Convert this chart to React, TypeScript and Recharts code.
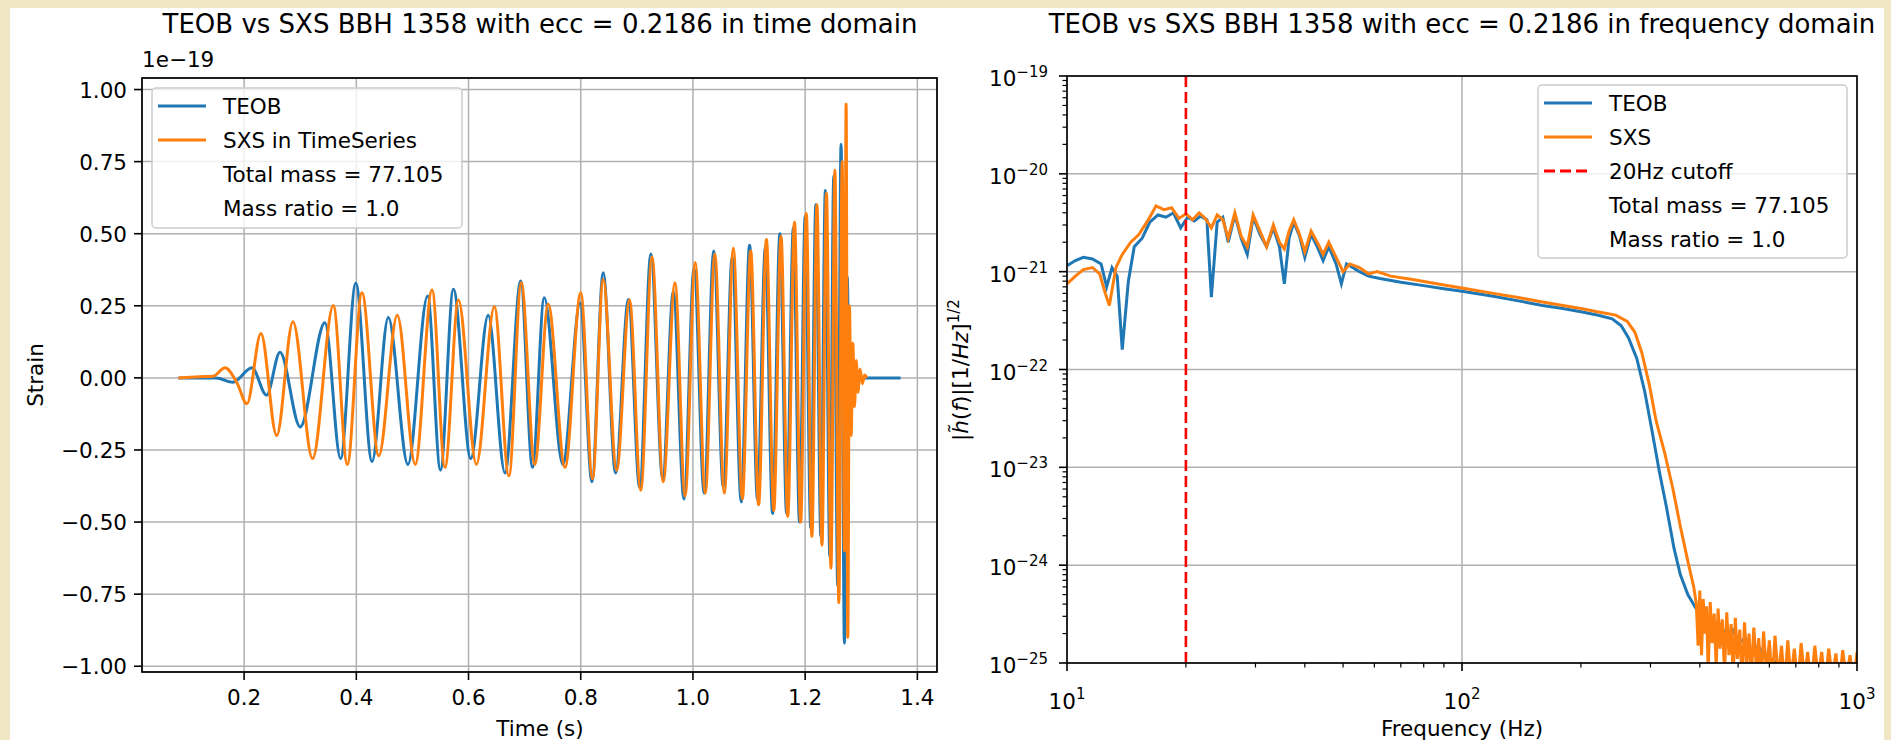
import React from 'react';
import { LineChart, Line, XAxis, YAxis, CartesianGrid, ReferenceLine } from 'recharts';

const FONT = '"DejaVu Sans", "Liberation Sans", sans-serif';
const INK = '#000000';
const BLUE = '#1f77b4';
const ORANGE = '#ff7f0e';
const GRID = '#b0b0b0';

// time domain, strain in units of 1e-19 (turning points of each waveform)
const teobWave: [number, number][] = [
  [0.083, 0], [0.15, 0], [0.18, -0.015], [0.214, 0.035], [0.24, -0.06], [0.264, 0.089],
  [0.3, -0.17], [0.344, 0.191], [0.372, -0.28], [0.399, 0.328], [0.428, -0.29], [0.457, 0.209],
  [0.492, -0.3], [0.527, 0.284], [0.55, -0.32], [0.573, 0.307], [0.604, -0.28], [0.635, 0.217],
  [0.665, -0.33], [0.693, 0.336], [0.714, -0.31], [0.735, 0.278], [0.768, -0.3], [0.799, 0.26],
  [0.82, -0.36], [0.84, 0.365], [0.862, -0.33], [0.885, 0.272], [0.905, -0.38], [0.925, 0.43],
  [0.946, -0.35], [0.965, 0.3], [0.984, -0.42], [1.002, 0.38], [1.02, -0.4], [1.037, 0.44],
  [1.054, -0.38], [1.07, 0.42], [1.086, -0.43], [1.101, 0.46], [1.115, -0.42], [1.129, 0.45],
  [1.142, -0.47], [1.155, 0.5], [1.167, -0.47], [1.179, 0.52], [1.19, -0.5], [1.2, 0.56],
  [1.21, -0.52], [1.219, 0.6], [1.228, -0.55], [1.236, 0.65], [1.244, -0.62], [1.251, 0.7],
  [1.258, -0.72], [1.264, 0.81], [1.27, -0.92], [1.275, 0.35], [1.279, -0.15], [1.283, 0.06],
  [1.287, -0.02], [1.292, 0], [1.37, 0],
];

const sxsWave: [number, number][] = [
  [0.083, 0], [0.12, 0.004], [0.145, 0.006], [0.166, 0.035], [0.188, -0.02], [0.205, -0.09],
  [0.23, 0.154], [0.258, -0.2], [0.287, 0.195], [0.322, -0.28], [0.359, 0.251], [0.384, -0.3],
  [0.41, 0.295], [0.44, -0.27], [0.473, 0.217], [0.505, -0.3], [0.535, 0.305], [0.558, -0.31],
  [0.582, 0.27], [0.614, -0.3], [0.646, 0.247], [0.672, -0.34], [0.694, 0.33], [0.718, -0.3],
  [0.742, 0.255], [0.772, -0.31], [0.8, 0.295], [0.821, -0.35], [0.84, 0.341], [0.864, -0.32],
  [0.887, 0.27], [0.907, -0.39], [0.927, 0.42], [0.947, -0.36], [0.968, 0.33], [0.986, -0.41],
  [1.004, 0.4], [1.022, -0.4], [1.039, 0.43], [1.056, -0.4], [1.072, 0.45], [1.088, -0.42],
  [1.103, 0.44], [1.117, -0.44], [1.131, 0.48], [1.144, -0.46], [1.157, 0.49], [1.169, -0.48],
  [1.181, 0.54], [1.192, -0.5], [1.202, 0.57], [1.212, -0.55], [1.221, 0.6], [1.23, -0.58],
  [1.238, 0.64], [1.246, -0.66], [1.253, 0.72], [1.26, -0.78], [1.266, 0.75], [1.27, -0.6],
  [1.273, 0.95], [1.276, -0.9], [1.279, 0.25], [1.282, -0.2], [1.285, 0.12], [1.288, -0.1],
  [1.291, 0.06], [1.294, -0.05], [1.298, 0.03], [1.302, -0.02], [1.306, 0.01], [1.31, 0],
];

const timeTicks = [0.2, 0.4, 0.6, 0.8, 1.0, 1.2, 1.4];
const strainTicks = [-1, -0.75, -0.5, -0.25, 0, 0.25, 0.5, 0.75, 1];

// frequency domain, |h(f)| in 1/sqrt(Hz)
const teobSpectrum: [number, number][] = [
  [10, 1.15e-21], [10.5, 1.3e-21], [11, 1.4e-21], [11.6, 1.35e-21], [12.2, 1.2e-21], [12.6, 7e-22],
  [13, 1.1e-21], [13.4, 9e-22], [13.8, 1.6e-22], [14.3, 8e-22], [14.8, 1.8e-21], [15.5, 2.2e-21],
  [16.2, 3.2e-21], [17, 3.8e-21], [17.8, 3.6e-21], [18.6, 4e-21], [19.4, 2.8e-21], [20.2, 3.6e-21],
  [21, 3.3e-21], [21.8, 3.7e-21], [22.6, 3.4e-21], [23.2, 5.5e-22], [24, 3.2e-21], [24.8, 3.6e-21],
  [25.6, 2e-21], [26.6, 3.8e-21], [27.6, 2.2e-21], [28.6, 1.5e-21], [29.6, 3.6e-21], [30.8, 2.4e-21],
  [32, 1.8e-21], [33.3, 2.8e-21], [34.5, 1.8e-21], [35.5, 7.5e-22], [36.5, 2.2e-21], [37.5, 3.2e-21],
  [38.8, 2.3e-21], [40, 1.4e-21], [41.5, 2.4e-21], [43, 1.8e-21], [44.5, 1.3e-21], [46, 1.8e-21],
  [48, 1.2e-21], [49.5, 7.5e-22], [51, 1.2e-21], [53, 1.1e-21], [55, 1e-21], [58, 9e-22],
  [62, 8.5e-22], [70, 7.8e-22], [80, 7.2e-22], [90, 6.7e-22], [100, 6.3e-22], [120, 5.6e-22],
  [140, 5e-22], [160, 4.5e-22], [180, 4.2e-22], [200, 3.9e-22], [220, 3.6e-22], [240, 3.3e-22],
  [253, 2.8e-22], [264, 2.1e-22], [277, 1.3e-22], [290, 6e-23], [302, 2.5e-23], [316, 9e-24],
  [329, 4e-24], [344, 1.5e-24], [357, 8e-25], [373, 5e-25], [393, 3.5e-25], [410, 3e-25],
  [428, 2.5e-25], [446, 2.6e-25], [464, 2e-25], [484, 2.2e-25], [502, 1.6e-25], [522, 1.8e-25],
  [542, 1.3e-25], [562, 1.5e-25], [582, 1.2e-25], [605, 1.1e-25], [630, 1e-25], [670, 9e-26],
];

const sxsSpectrum: [number, number][] = [
  [10, 7.5e-22], [10.5, 9e-22], [11, 1.05e-21], [11.6, 1.1e-21], [12.1, 9.5e-22], [12.5, 6e-22],
  [12.8, 4.5e-22], [13.3, 1.1e-21], [13.8, 1.5e-21], [14.5, 2e-21], [15.2, 2.4e-21], [16, 3.3e-21],
  [16.8, 4.7e-21], [17.6, 4.3e-21], [18.4, 4.5e-21], [19.2, 3.5e-21], [20, 3.9e-21], [20.8, 3.4e-21],
  [21.6, 4e-21], [22.4, 3.5e-21], [23.2, 2.8e-21], [24, 3.8e-21], [24.8, 3.4e-21], [25.6, 2.2e-21],
  [26.6, 4e-21], [27.6, 2.3e-21], [28.6, 1.8e-21], [29.6, 3.8e-21], [30.8, 2.6e-21], [32, 1.8e-21],
  [33.3, 3e-21], [34.5, 2e-21], [35.5, 1.7e-21], [36.5, 2.6e-21], [37.5, 3.4e-21], [38.8, 2.4e-21],
  [40, 1.6e-21], [41.5, 2.6e-21], [43, 2e-21], [44.5, 1.5e-21], [46, 2e-21], [48, 1.4e-21],
  [50, 1e-21], [52, 1.2e-21], [55, 1.1e-21], [58, 9.5e-22], [61, 1e-21], [66, 9e-22],
  [75, 8.3e-22], [90, 7.3e-22], [100, 6.8e-22], [120, 6e-22], [140, 5.4e-22], [160, 4.9e-22],
  [180, 4.5e-22], [200, 4.2e-22], [220, 3.9e-22], [245, 3.6e-22], [262, 3.1e-22], [274, 2.4e-22],
  [285, 1.5e-22], [298, 7e-23], [310, 3e-23], [326, 1.4e-23], [342, 6e-24], [357, 2.5e-24],
  [373, 1.1e-24], [386, 6e-25], [392, 4e-25], [396, 1.5e-25], [400, 5.5e-25], [404, 1.2e-25],
  [408, 4.5e-25], [412, 2e-25], [416, 3.8e-25], [420, 8e-26], [425, 4.2e-25], [430, 1.6e-25],
  [435, 3.2e-25], [440, 9e-26], [445, 3.6e-25], [450, 1.4e-25], [456, 2.8e-25], [462, 8e-26],
  [468, 3.3e-25], [474, 1.2e-25], [480, 2.5e-25], [486, 7e-26], [492, 2.9e-25], [498, 1.1e-25],
  [505, 2.2e-25], [512, 6e-26], [519, 2.6e-25], [526, 1e-25], [533, 2e-25], [540, 7e-26],
  [548, 2.3e-25], [556, 9e-26], [564, 1.8e-25], [572, 6e-26], [580, 2.1e-25], [590, 8e-26],
  [600, 1.7e-25], [610, 6e-26], [620, 1.9e-25], [632, 7e-26], [644, 1.5e-25], [656, 6e-26],
  [668, 1.7e-25], [680, 7e-26], [694, 1.4e-25], [708, 6e-26], [722, 1.6e-25], [736, 7e-26],
  [750, 1.3e-25], [766, 6e-26], [782, 1.5e-25], [798, 7e-26], [814, 1.3e-25], [830, 6e-26],
  [848, 1.4e-25], [866, 7e-26], [884, 1.25e-25], [902, 6e-26], [920, 1.35e-25], [940, 7e-26],
  [960, 1.2e-25], [980, 6e-26], [1000, 1.3e-25],
];

const freqMajor = [10, 100, 1000];
const freqMinor = [20, 30, 40, 50, 60, 70, 80, 90, 200, 300, 400, 500, 600, 700, 800, 900];
const ampExponents = [-25, -24, -23, -22, -21, -20, -19];
const cutoffHz = 20;

const teobTimeData = teobWave.map(([t, v]) => ({ t, v }));
const sxsTimeData = sxsWave.map(([t, v]) => ({ t, v }));
const teobFreqData = teobSpectrum.map(([f, a]) => ({ f, a }));
const sxsFreqData = sxsSpectrum.map(([f, a]) => ({ f, a }));

const ampMajor = ampExponents.map((e) => Number(`1e${e}`));
const ampMinor = ampExponents
  .slice(0, -1)
  .flatMap((e) => [2, 3, 4, 5, 6, 7, 8, 9].map((m) => Number(`${m}e${e}`)));
const ampTicks = [...ampMajor, ...ampMinor].sort((a, b) => a - b);
const freqTicks = [...freqMajor, ...freqMinor].sort((a, b) => a - b);
const ampGrid = ampMajor.slice(1, -1);

const TICK_FS = 21.5;
const minus = (s: string) => s.replace('-', '\u2212');

function TimeTick({ x, y, payload }: any) {
  return (
    <g>
      <line x1={x} y1={y} x2={x} y2={y + 8} stroke={INK} strokeWidth={1.6} />
      <text x={x} y={y + 33} textAnchor="middle" fontFamily={FONT} fontSize={TICK_FS} fill={INK}>
        {payload.value.toFixed(1)}
      </text>
    </g>
  );
}

function StrainTick({ x, y, payload }: any) {
  return (
    <g>
      <line x1={x - 8} y1={y} x2={x} y2={y} stroke={INK} strokeWidth={1.6} />
      <text x={x - 15} y={y + 8} textAnchor="end" fontFamily={FONT} fontSize={TICK_FS} fill={INK}>
        {minus(payload.value.toFixed(2))}
      </text>
    </g>
  );
}

function FreqTick({ x, y, payload }: any) {
  const v = payload.value;
  const major = freqMajor.includes(v);
  return (
    <g>
      <line x1={x} y1={y} x2={x} y2={y + (major ? 8 : 4.5)} stroke={INK} strokeWidth={major ? 1.6 : 1.2} />
      {major && (
        <text x={x} y={y + 46} textAnchor="middle" fontFamily={FONT} fontSize={TICK_FS} fill={INK}>
          10<tspan dy={-10} fontSize={15}>{Math.round(Math.log10(v))}</tspan>
        </text>
      )}
    </g>
  );
}

function AmpTick({ x, y, payload }: any) {
  const v = payload.value;
  const major = ampMajor.includes(v);
  return (
    <g>
      <line x1={x - (major ? 8 : 4.5)} y1={y} x2={x} y2={y} stroke={INK} strokeWidth={major ? 1.6 : 1.2} />
      {major && (
        <text x={x - 19} y={y + 10} textAnchor="end" fontFamily={FONT} fontSize={TICK_FS} fill={INK}>
          10<tspan dy={-9} fontSize={15}>{minus(String(Math.round(Math.log10(v))))}</tspan>
        </text>
      )}
    </g>
  );
}

function LegendBox({ x, y, w, h, rows }: { x: number; y: number; w: number; h: number; rows: { label: string; color?: string; dash?: string }[] }) {
  return (
    <g>
      <rect x={x} y={y} width={w} height={h} rx={4} fill="#ffffff" fillOpacity={0.8} stroke="#cccccc" strokeWidth={1.5} />
      {rows.map((r, i) => {
        const cy = y + 18 + i * 34;
        return (
          <g key={r.label}>
            {r.color && (
              <line x1={x + 6} y1={cy} x2={x + 54} y2={cy} stroke={r.color} strokeWidth={3.2} strokeDasharray={r.dash} />
            )}
            <text x={x + 71} y={cy + 8} fontFamily={FONT} fontSize={TICK_FS} fill={INK}>
              {r.label}
            </text>
          </g>
        );
      })}
    </g>
  );
}

export default function App() {
  return (
    <div style={{ position: 'absolute', left: 0, top: 0, width: 1891, height: 740, background: '#f2e7c4', overflow: 'hidden' }}>
      <div style={{ position: 'absolute', left: 10, top: 8, width: 1874, height: 732, background: '#ffffff' }} />

      <div style={{ position: 'absolute', left: 0, top: 0 }}>
        <LineChart width={960} height={740} margin={{ top: 78, right: 23, bottom: 0, left: 0 }}>
          <CartesianGrid stroke={GRID} strokeWidth={1.5} />
          <XAxis
            dataKey="t"
            type="number"
            domain={[0.018, 1.435]}
            allowDataOverflow
            ticks={timeTicks}
            interval={0}
            height={68}
            axisLine={false}
            tickLine={false}
            tickSize={0}
            tickMargin={0}
            tick={<TimeTick />}
          />
          <YAxis
            type="number"
            domain={[-1.02, 1.04]}
            allowDataOverflow
            ticks={strainTicks}
            interval={0}
            width={142}
            axisLine={false}
            tickLine={false}
            tickSize={0}
            tickMargin={0}
            tick={<StrainTick />}
          />
          <Line data={teobTimeData} dataKey="v" type="monotone" stroke={BLUE} strokeWidth={3} dot={false} isAnimationActive={false} />
          <Line data={sxsTimeData} dataKey="v" type="monotone" stroke={ORANGE} strokeWidth={3} dot={false} isAnimationActive={false} />
        </LineChart>
      </div>

      <div style={{ position: 'absolute', left: 960, top: 0 }}>
        <LineChart width={931} height={740} margin={{ top: 76, right: 34, bottom: 0, left: 0 }}>
          <CartesianGrid stroke={GRID} strokeWidth={1.5} horizontalValues={ampGrid} verticalValues={[100]} />
          <XAxis
            dataKey="f"
            type="number"
            scale="log"
            domain={[10, 1000]}
            allowDataOverflow
            ticks={freqTicks}
            interval={0}
            height={77}
            axisLine={false}
            tickLine={false}
            tickSize={0}
            tickMargin={0}
            tick={<FreqTick />}
          />
          <YAxis
            type="number"
            scale="log"
            domain={[1e-25, 1e-19]}
            allowDataOverflow
            ticks={ampTicks}
            interval={0}
            width={107}
            axisLine={false}
            tickLine={false}
            tickSize={0}
            tickMargin={0}
            tick={<AmpTick />}
          />
          <Line data={teobFreqData} dataKey="a" type="linear" stroke={BLUE} strokeWidth={3} dot={false} isAnimationActive={false} />
          <Line data={sxsFreqData} dataKey="a" type="linear" stroke={ORANGE} strokeWidth={3} dot={false} isAnimationActive={false} />
          <ReferenceLine x={cutoffHz} stroke="#ff0000" strokeWidth={2.6} strokeDasharray="11 5" />
        </LineChart>
      </div>

      <svg width={1891} height={740} style={{ position: 'absolute', left: 0, top: 0, pointerEvents: 'none' }}>
        <rect x={142} y={78} width={795} height={594} fill="none" stroke={INK} strokeWidth={1.7} />
        <rect x={1067} y={76} width={790} height={587} fill="none" stroke={INK} strokeWidth={1.7} />

        <text x={540} y={33} textAnchor="middle" fontFamily={FONT} fontSize={26} fill={INK}>
          TEOB vs SXS BBH 1358 with ecc = 0.2186 in time domain
        </text>
        <text x={1462} y={33} textAnchor="middle" fontFamily={FONT} fontSize={26} fill={INK}>
          TEOB vs SXS BBH 1358 with ecc = 0.2186 in frequency domain
        </text>

        <text x={142} y={67} fontFamily={FONT} fontSize={TICK_FS} fill={INK}>1e{'\u2212'}19</text>

        <text x={540} y={736} textAnchor="middle" fontFamily={FONT} fontSize={TICK_FS} fill={INK}>Time (s)</text>
        <text x={1462} y={736} textAnchor="middle" fontFamily={FONT} fontSize={TICK_FS} fill={INK}>Frequency (Hz)</text>
        <text x={43} y={375} transform="rotate(-90 43 375)" textAnchor="middle" fontFamily={FONT} fontSize={TICK_FS} fill={INK}>
          Strain
        </text>
        <text x={968} y={370} transform="rotate(-90 968 370)" textAnchor="middle" fontFamily={FONT} fontSize={TICK_FS} fill={INK}>
          |<tspan fontStyle="italic">h{'\u0303'}</tspan>(<tspan fontStyle="italic">f</tspan>)|[1/<tspan fontStyle="italic">Hz</tspan>]<tspan dy={-9} fontSize={15}>1/2</tspan>
        </text>

        <LegendBox
          x={152}
          y={88}
          w={310}
          h={140}
          rows={[
            { label: 'TEOB', color: BLUE },
            { label: 'SXS in TimeSeries', color: ORANGE },
            { label: 'Total mass = 77.105' },
            { label: 'Mass ratio = 1.0' },
          ]}
        />
        <LegendBox
          x={1538}
          y={85}
          w={309}
          h={173}
          rows={[
            { label: 'TEOB', color: BLUE },
            { label: 'SXS', color: ORANGE },
            { label: '20Hz cutoff', color: '#ff0000', dash: '11 5' },
            { label: 'Total mass = 77.105' },
            { label: 'Mass ratio = 1.0' },
          ]}
        />
      </svg>
    </div>
  );
}
